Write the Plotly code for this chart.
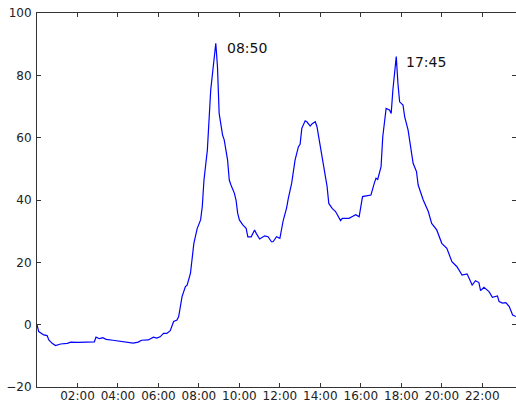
import pandas as pd
import plotly.graph_objects as go

times = ["00:00","00:05","00:20","00:30","00:35","00:45","00:55","01:10","01:30","01:40",
         "02:00","02:25","02:50","02:55","03:05","03:15","03:25","03:45","04:05","04:25",
         "04:45","05:00","05:10","05:30","05:45","05:55","06:05","06:15","06:25","06:35",
         "06:45","06:55","07:00","07:10","07:20","07:25","07:35","07:45","07:55","08:05",
         "08:10","08:15","08:25","08:35","08:50","08:55","09:00","09:10","09:15","09:25",
         "09:30","09:35","09:45","09:50","09:55","10:00","10:10","10:20","10:25","10:35",
         "10:45","10:50","11:00","11:15","11:25","11:35","11:40","11:50","12:00","12:10",
         "12:20","12:25","12:35","12:45","12:55","13:00","13:05","13:15","13:20","13:30",
         "13:35","13:45","13:50","14:00","14:10","14:20","14:25","14:35","14:45","14:50",
         "15:00","15:05","15:25","15:35","15:45","15:55","16:00","16:05","16:20","16:30",
         "16:40","16:45","16:50","17:00","17:05","17:15","17:25","17:30","17:35","17:45",
         "17:50","17:55","18:05","18:10","18:20","18:30","18:35","18:45","18:50","19:05",
         "19:20","19:30","19:45","20:00","20:15","20:30","20:45","21:00","21:15","21:30",
         "21:40","21:50","21:55","22:05","22:20","22:30","22:45","22:50","23:00","23:10",
         "23:20","23:30","23:40"]
values = [0.0,-2.2,-3.3,-3.5,-4.9,-6.0,-6.7,-6.2,-6.0,-5.6,
          -5.7,-5.6,-5.5,-4.0,-4.5,-4.2,-4.7,-5.0,-5.3,-5.8,
          -5.9,-5.6,-5.0,-4.9,-4.0,-4.3,-3.9,-2.8,-2.8,-1.9,
          1.0,1.5,2.6,9.0,12.2,12.7,16.5,26.1,30.9,33.6,
          37.9,46.4,56.0,75.3,90.3,82.8,67.8,60.9,59.3,52.8,
          46.4,44.8,42.2,40.0,35.7,33.6,32.0,30.9,28.2,28.2,
          30.4,29.3,27.5,28.5,28.2,26.6,26.6,28.2,27.7,33.5,
          37.5,40.5,45.4,52.8,57.1,57.9,63.0,65.4,65.1,63.7,
          64.4,65.1,63.5,57.1,50.7,44.3,38.9,37.3,36.3,35.2,
          33.4,34.1,34.1,34.7,35.3,34.6,37.3,41.1,41.4,41.6,
          45.4,47.0,46.6,50.7,60.3,69.4,68.9,67.8,75.3,86.0,
          77.4,71.5,70.5,66.7,62.5,56.0,51.8,49.1,44.8,40.0,
          36.3,32.5,30.4,26.1,24.5,20.2,18.6,15.9,16.3,12.7,
          14.1,13.5,10.9,12.0,10.6,8.8,9.2,7.4,6.9,7.1,
          5.8,3.1,2.6]

peak_labels = ["08:50", "17:45"]
peak_text_pos = [("09:17", 88.8), ("18:09", 84.3)]

tick_labels = ["02:00","04:00","06:00","08:00","10:00","12:00","14:00","16:00","18:00","20:00","22:00"]
y_ticks = [-20, 0, 20, 40, 60, 80, 100]

day = "2000-01-01 "
x = pd.to_datetime([day + t for t in times])

fig = go.Figure()
fig.add_trace(go.Scatter(x=x, y=values, mode="lines",
                         line=dict(color="#0000ff", width=1.2), showlegend=False))

for lab, (tx, ty) in zip(peak_labels, peak_text_pos):
    fig.add_annotation(x=pd.Timestamp(day + tx), y=ty, text=lab, showarrow=False,
                       xanchor="left", yanchor="middle",
                       font=dict(family="DejaVu Sans", size=14, color="#111"))

axis_common = dict(showline=True, linecolor="#333", linewidth=1, mirror="ticks",
                   ticks="inside", ticklen=4, tickcolor="#333", tickwidth=1,
                   showgrid=False, zeroline=False, automargin=False,
                   tickfont=dict(family="DejaVu Sans", size=12, color="#222"))

fig.update_xaxes(range=[pd.Timestamp(day + "00:00"), pd.Timestamp(day + times[-1])],
                 tickvals=[pd.Timestamp(day + t) for t in tick_labels],
                 ticktext=tick_labels, ticklabelstandoff=-2, **axis_common)
fig.update_yaxes(range=[-20, 100], tickvals=y_ticks, ticklabelstandoff=2, **axis_common)

fig.update_layout(width=516, height=402, template="none",
                  margin=dict(l=37, r=0, t=13, b=15),
                  paper_bgcolor="white", plot_bgcolor="white")

fig.write_html("out.html", config={"displayModeBar": False},
               post_script="document.body.style.margin='0';document.body.style.overflow='hidden';")
